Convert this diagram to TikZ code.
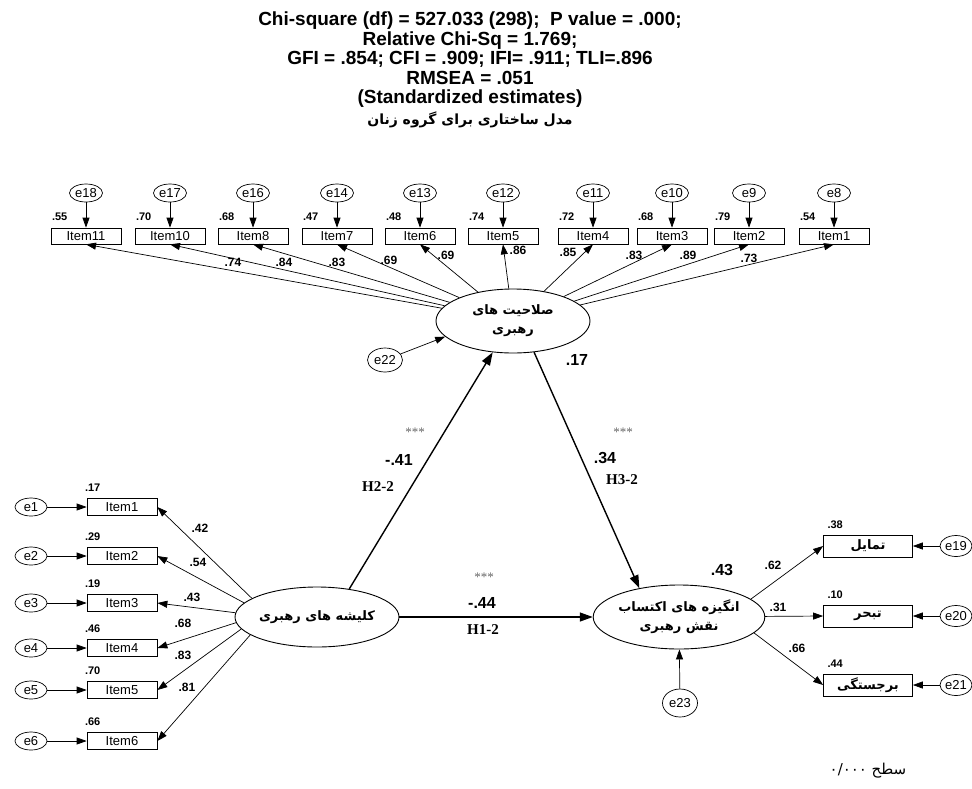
\documentclass[tikz,border=0pt]{standalone}
\usepackage{fontspec}
\setmainfont{Liberation Sans}
\newfontfamily\tms{Liberation Serif}
\newfontfamily\fa[Script=Arabic]{DejaVu Sans}
\TeXXeTstate=1
\usetikzlibrary{shapes.geometric,arrows.meta}
\begin{document}
\begin{tikzpicture}[x=1pt,y=-1pt,
  every node/.style={inner sep=0pt},
  item/.style={draw,rectangle,minimum width=70pt,minimum height=16pt,font=\fontsize{13}{13}\selectfont,line width=0.7pt},
  ritem/.style={draw,rectangle,minimum width=89pt,minimum height=22pt,font=\fa\bfseries\fontsize{13}{13}\selectfont,line width=0.7pt},
  err/.style={draw,ellipse,minimum width=33pt,minimum height=18pt,font=\fontsize{13}{13}\selectfont,line width=0.7pt},
  lat/.style={draw,ellipse,line width=0.9pt,align=center,font=\fa\bfseries\fontsize{13}{19}\selectfont},
  arr/.style={-{Triangle[length=10pt,width=7pt]},line width=0.7pt},
  sarr/.style={-{Triangle[length=13pt,width=9pt]},line width=1.4pt},
  sm/.style={font=\bfseries\fontsize{11}{11}\selectfont},
  ld/.style={font=\bfseries\fontsize{12}{12}\selectfont},
  big/.style={font=\bfseries\fontsize{16}{16}\selectfont},
  hyp/.style={font=\tms\bfseries\fontsize{15}{15}\selectfont},
  star/.style={font=\tms\fontsize{13}{13}\selectfont,text=black!60},
]
\useasboundingbox[fill=white] (0,0) rectangle (972,788);

% title
\node[font=\bfseries\fontsize{19}{19.5}\selectfont,align=center] (title) at (470,60)
  {Chi-square (df) = 527.033 (298);\ \ P value = .000;\\Relative Chi-Sq = 1.769;\\GFI = .854; CFI = .909; IFI= .911; TLI=.896\\RMSEA = .051\\(Standardized estimates)};
\node[font=\fa\bfseries\fontsize{14}{14}\selectfont] (sub) at (470,120) {\beginR مدل ساختاری برای گروه زنان\endR};

% latent variables
\node[lat,minimum width=154pt,minimum height=64pt] (T) at (513,321) {\beginR صلاحیت های\endR\\\beginR رهبری\endR};
\node[lat,minimum width=150pt,minimum height=60pt] (L) at (317,617) {\beginR کلیشه های رهبری\endR};
\node[lat,minimum width=148pt,minimum height=64pt] (R) at (679,617) {\beginR انگیزه های اکتساب\endR\\\beginR نقش رهبری\endR};

\node[err,minimum width=35pt,minimum height=24pt] (e22) at (385,360) {e22};
\node[err,minimum width=35pt,minimum height=28pt] (e23) at (680,703) {e23};
\draw[arr] (e22) -- (T.193);
\draw[arr] (e23) -- (R);

% top items
\foreach \n/\e/\x/\v in {11/18/86/.55, 10/17/170/.70, 8/16/253/.68, 7/14/337/.47, 6/13/420/.48, 5/12/503/.74, 4/11/593/.72, 3/10/672/.68, 2/9/749/.79, 1/8/834/.54}{
  \node[item] (t\n) at (\x,236) {Item\n};
  \node[err] (e\e) at (\x,193) {e\e};
  \node[sm] (vt\n) at ([xshift=9pt,yshift=11pt]t\n.north west) {\v};
  \draw[arr] (e\e) -- (t\n);
  \draw[arr] (T) -- (t\n.south);
}
\foreach \k/\x/\y/\v in {a/233/262/.74, b/284/262/.84, c/337/262/.83, d/389/260/.69, e/446/255/.69, f/518/250/.86, g/568/252/.85, h/634/255/.83, i/688/255/.89, j/749/258/.73}{
  \node[ld] (lt\k) at (\x,\y) {\v};
}

% left items
\foreach \n/\y/\v/\a/\lx/\ly/\lv in {1/507/.17/164/200/528/.42, 2/556/.29/169/198/562/.54, 3/603/.19/177/192/597/.43, 4/648/.46/184/183/623/.68, 5/690/.70/189/183/655/.83, 6/741/.66/195/187/687/.81}{
  \node[item,minimum height=17pt] (l\n) at (122,\y) {Item\n};
  \node[err,minimum width=32pt] (e\n) at (31,\y) {e\n};
  \node[sm] (vl\n) at ([xshift=6pt,yshift=10pt]l\n.north west) {\v};
  \node[ld] (ll\n) at (\lx,\ly) {\lv};
  \draw[arr] (e\n) -- (l\n);
  \draw[arr] (L.\a) -- (l\n.east);
}

% right items
\node[ritem] (r1) at (868,546) {\beginR تمایل\endR};
\node[ritem] (r2) at (868,616) {\beginR تبحر\endR};
\node[ritem] (r3) at (868,685) {\beginR برجستگی\endR};
\node[err,minimum width=32pt,minimum height=21pt] (e19) at (956,546) {e19};
\node[err,minimum width=32pt,minimum height=21pt] (e20) at (956,616) {e20};
\node[err,minimum width=32pt,minimum height=21pt] (e21) at (956,685) {e21};
\draw[arr] (e19) -- (r1);
\draw[arr] (e20) -- (r2);
\draw[arr] (e21) -- (r3);
\draw[arr] (R.14) -- (r1.west);
\draw[arr] (R) -- (r2.west);
\draw[arr] (R.-12) -- (r3.west);
\node[sm] (vr1) at ([xshift=12pt,yshift=10pt]r1.north west) {.38};
\node[sm] (vr2) at ([xshift=12pt,yshift=10pt]r2.north west) {.10};
\node[sm] (vr3) at ([xshift=12pt,yshift=10pt]r3.north west) {.44};
\node[ld] (lr1) at (773,565) {.62};
\node[ld] (lr2) at (778,607) {.31};
\node[ld] (lr3) at (797,648) {.66};

% structural paths
\draw[sarr] (L.41) -- (T.237);
\draw[sarr] (T.-56) -- (R.144);
\draw[sarr] (L) -- (R);

\node[star] (s1) at (415,432) {***};
\node[big] (p1) at (399,460) {-.41};
\node[hyp] (h1) at (378,487) {H2-2};
\node[star] (s2) at (623,432) {***};
\node[big] (p2) at (605,458) {.34};
\node[hyp] (h2) at (622,480) {H3-2};
\node[star] (s3) at (484,577) {***};
\node[big] (p3) at (482,603) {-.44};
\node[hyp] (h3) at (483,630) {H1-2};
\node[big] (r2T) at (577,360) {.17};
\node[big] (r2R) at (722,570) {.43};

\node[font=\fa\fontsize{15}{15}\selectfont] (foot) at (868,771) {\beginR سطح \beginL ۰/۰۰۰\endL\endR};
\end{tikzpicture}
\end{document}
